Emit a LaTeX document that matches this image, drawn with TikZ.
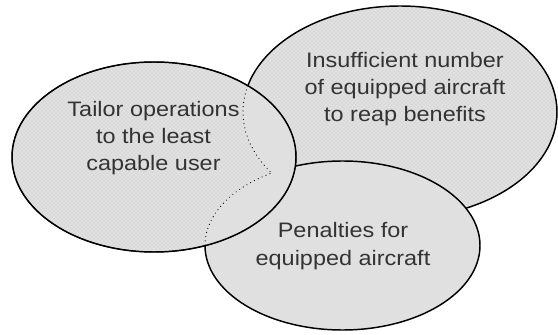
\documentclass[tikz,border=0pt]{standalone}
\usepackage{fontspec}
\setmainfont{Liberation Sans}[FakeStretch=1.12]
\usetikzlibrary{patterns}

\definecolor{plaingray}{HTML}{E0E0E0}
\definecolor{dotgray}{HTML}{D9D9D9}
\definecolor{inkgray}{HTML}{333333}

\tikzset{every picture/.style={line width=0.75pt}}
\tikzset{
  stipple/.style={preaction={fill=dotgray}, pattern=crosshatch dots, pattern color=white},
  rim/.style={draw=black, line width=1.1pt},
  hidden/.style={line width=0.9pt, line cap=round, dash pattern=on 0pt off 3.2pt},
  ovaltext/.style={inner sep=0.75pt, align=center, text=inkgray, font=\fontsize{15.7}{20.5}\selectfont}
}

\begin{document}
\begin{tikzpicture}[x=0.75pt,y=0.75pt,yscale=-1,xscale=1]
\useasboundingbox (0,0) rectangle (558,335);

%Shape: Ellipse [id:dp_shortfall] 
\draw [rim, stipple] (400,112) ellipse [x radius=157, y radius=106];
%Shape: Ellipse [id:dp_penalty] 
\draw [rim, fill=plaingray] (342.5,245.5) ellipse [x radius=137.5, y radius=84.5];
%Shape: Ellipse [id:dp_tailor] 
\draw [stipple] (154,157) ellipse [x radius=142, y radius=95];

%Overlap seen through the left ellipse
\begin{scope}
\clip (154,157) ellipse [x radius=142, y radius=95];
\fill [plaingray] (400,112) ellipse [x radius=157, y radius=106];
\fill [plaingray] (342.5,245.5) ellipse [x radius=137.5, y radius=84.5];
\begin{scope}[even odd rule]
\clip (0,0) rectangle (558,335) (342.5,245.5) ellipse [x radius=137.5, y radius=84.5];
\draw [hidden] (400,112) ellipse [x radius=157, y radius=106];
\end{scope}
\begin{scope}[even odd rule]
\clip (0,0) rectangle (558,335) (400,112) ellipse [x radius=157, y radius=106];
\draw [hidden] (342.5,245.5) ellipse [x radius=137.5, y radius=84.5];
\end{scope}
\end{scope}
%Shape: Ellipse [id:dp_tailor] outline
\draw [rim] (154,157) ellipse [x radius=142, y radius=95];

% Text Node
\draw (153.5,138) node [ovaltext] (tailor) {Tailor operations\\to the least\\capable user};
% Text Node
\draw (405,89) node [ovaltext] (shortfall) {Insufficient number\\of equipped aircraft\\to reap benefits};
% Text Node
\draw (343,246) node [ovaltext] (penalty) {Penalties for\\equipped aircraft};

\end{tikzpicture}
\end{document}
